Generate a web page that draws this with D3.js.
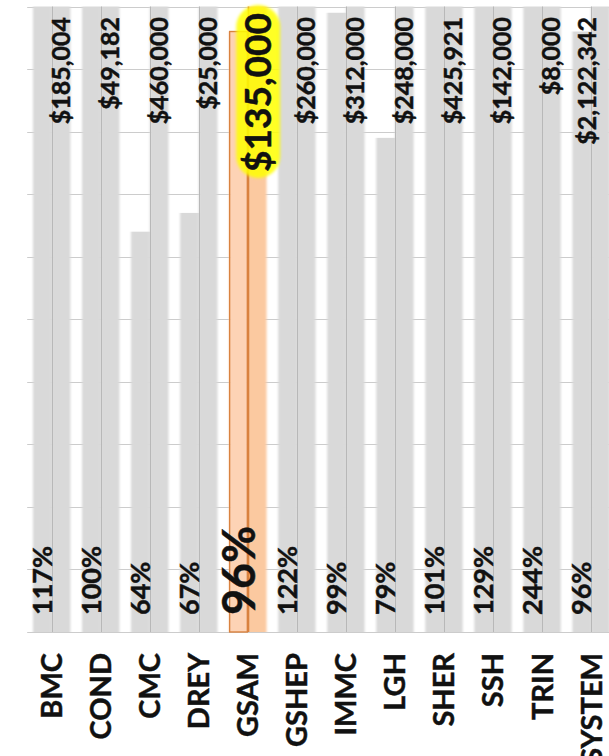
<!DOCTYPE html>
<html>
<head>
<meta charset="utf-8">
<script src="https://cdn.jsdelivr.net/npm/d3@7"></script>
<style>
  body { margin: 0; background: #fff; }
  svg { display: block; font-family: Lato, "Open Sans", sans-serif; font-weight: bold; }
  text { stroke: #111; stroke-width: 0.45px; }
</style>
</head>
<body>
<svg width="609" height="756"></svg>
<script>
const margin = { top: 6.5, left: 27.2, bottom: 124 };
const width = 609;
const height = 756;
const plotRight = 615.6;

const categories = ["BMC", "COND", "CMC", "DREY", "GSAM", "GSHEP", "IMMC", "LGH", "SHER", "SSH", "TRIN", "SYSTEM"];
const pctOfGoal = [1.17, 1.00, 0.64, 0.67, 0.96, 1.22, 0.99, 0.79, 1.01, 1.29, 2.44, 0.96];
const fullBar = [1, 1, 1, 1, 1, 1, 1, 1, 1, 1, 1, 1];
const dollars = [185004, 49182, 460000, 25000, 135000, 260000, 312000, 248000, 425921, 142000, 8000, 2122342];
const gridTicks = [0, 0.1, 0.2, 0.3, 0.4, 0.5, 0.6, 0.7, 0.8, 0.9, 1];
const highlight = "GSAM";

const svg = d3.select("svg");

const xScale = d3.scaleBand()
    .domain(categories)
    .range([margin.left, plotRight])
    .paddingInner(0.237)
    .paddingOuter(0.1185);

const subScale = d3.scaleBand()
    .domain(["pct", "full"])
    .range([0, xScale.bandwidth()]);

const yScale = d3.scaleLinear()
    .domain([0, 1])
    .range([height - margin.bottom, margin.top])
    .clamp(true);

// soft edges on the bars, like the original picture
const defs = svg.append("defs");
defs.append("filter").attr("id", "soft")
    .attr("x", "-10%").attr("width", "120%")
    .append("feGaussianBlur").attr("stdDeviation", "1.2 0");
const glow = defs.append("filter").attr("id", "glow")
    .attr("x", "-30%").attr("y", "-10%").attr("width", "160%").attr("height", "120%");
glow.append("feGaussianBlur").attr("stdDeviation", 1.5);

// gridlines
svg.append("g")
    .selectAll("line")
    .data(gridTicks)
    .join("line")
    .attr("x1", margin.left)
    .attr("x2", width)
    .attr("y1", d => Math.round(yScale(d)) + 0.5)
    .attr("y2", d => Math.round(yScale(d)) + 0.5)
    .attr("stroke", "#cccccc")
    .attr("stroke-width", 1);

const rows = categories.map((c, i) => ({ cat: c, pct: pctOfGoal[i], full: fullBar[i], dollars: dollars[i] }));

const bars = svg.append("g").attr("filter", "url(#soft)");

bars.selectAll(".full")
    .data(rows)
    .join("rect")
    .attr("x", d => xScale(d.cat) + subScale("full"))
    .attr("y", d => yScale(d.full))
    .attr("width", subScale.bandwidth())
    .attr("height", d => yScale(0) - yScale(d.full))
    .attr("fill", d => d.cat == highlight ? "#fbc9a0" : "#d9d9d9");

bars.selectAll(".pct")
    .data(rows)
    .join("rect")
    .attr("x", d => xScale(d.cat) + subScale("pct"))
    .attr("y", d => yScale(d.pct))
    .attr("width", subScale.bandwidth())
    .attr("height", d => yScale(0) - yScale(d.pct))
    .attr("fill", d => d.cat == highlight ? "#fdd3b5" : "#d9d9d9");

// thin dividing line between the two bars
svg.append("g")
    .selectAll("line")
    .data(rows)
    .join("line")
    .attr("x1", d => Math.round(xScale(d.cat) + subScale("full")) + 0.5)
    .attr("x2", d => Math.round(xScale(d.cat) + subScale("full")) + 0.5)
    .attr("y1", yScale(1))
    .attr("y2", yScale(0))
    .attr("stroke", d => d.cat == highlight ? "#d9823f" : "#b8b8b8")
    .attr("stroke-width", d => d.cat == highlight ? 1.6 : 1);

// outline on the highlighted bar
const hl = rows.find(d => d.cat == highlight);
svg.append("rect")
    .attr("x", xScale(hl.cat) + subScale("pct") + 0.5)
    .attr("y", yScale(hl.pct))
    .attr("width", subScale.bandwidth() - 1)
    .attr("height", yScale(0) - yScale(hl.pct))
    .attr("fill", "none")
    .attr("stroke", "#d9823f")
    .attr("stroke-width", 1.4);

// percent labels, inside base of the left bar
svg.append("g")
    .selectAll("text")
    .data(rows)
    .join("text")
    .attr("transform", d => "translate(" + (xScale(d.cat) + subScale("pct") + subScale.bandwidth() / 2) + "," + (yScale(0) - 17) + ") rotate(-90)")
    .attr("dy", "0.36em")
    .attr("font-size", d => d.cat == highlight ? 45 : 27)
    .attr("fill", "#111")
    .text(d => Math.round(d.pct * 100) + "%");

// dollar labels, inside end of the right bar
const fmt = d3.format("$,");
const dollarX = d => Math.min(xScale(d.cat) + subScale("full") + subScale.bandwidth() / 2, 587);

svg.append("rect")
    .attr("x", dollarX(hl) - 21)
    .attr("y", 5)
    .attr("width", 44)
    .attr("height", 173)
    .attr("rx", 22)
    .attr("fill", "#ffff00")
    .attr("opacity", 0.85)
    .attr("filter", "url(#glow)");

svg.append("g")
    .selectAll("text")
    .data(rows)
    .join("text")
    .attr("transform", d => "translate(" + dollarX(d) + "," + (d.cat == highlight ? 13 : 17) + ") rotate(-90)")
    .attr("dy", "0.36em")
    .attr("text-anchor", "end")
    .attr("font-size", d => d.cat == highlight ? 37 : 25)
    .attr("fill", "#111")
    .text(d => fmt(d.dollars));

// category labels below the plot
svg.append("g")
    .selectAll("text")
    .data(categories)
    .join("text")
    .attr("transform", d => "translate(" + (xScale(d) + xScale.bandwidth() / 2) + "," + 653 + ") rotate(-90)")
    .attr("dy", "0.36em")
    .attr("text-anchor", "end")
    .attr("font-size", 29)
    .attr("fill", "#111")
    .text(d => d);
</script>
</body>
</html>
